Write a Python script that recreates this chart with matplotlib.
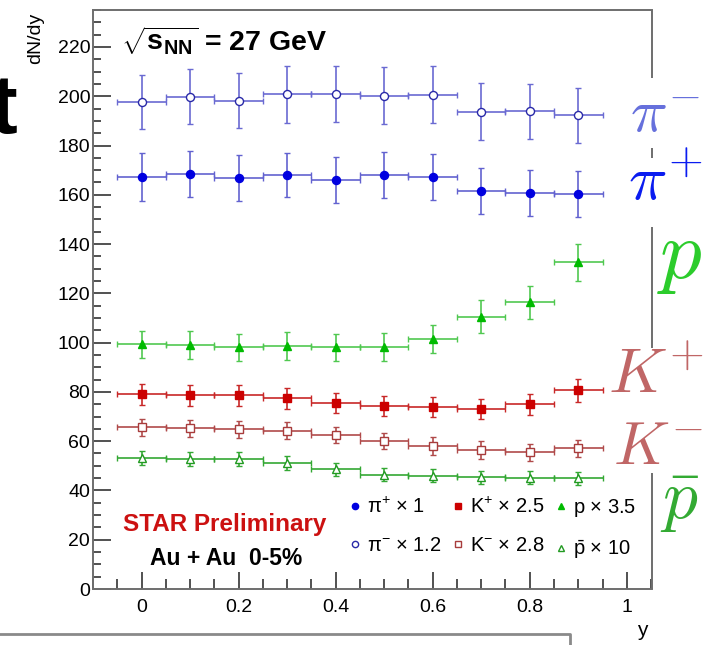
import matplotlib
matplotlib.use("Agg")
import matplotlib.pyplot as plt
from matplotlib.lines import Line2D
from matplotlib.ticker import MultipleLocator

plt.rcParams['font.family'] = ['Liberation Sans', 'DejaVu Sans']
plt.rcParams['mathtext.fontset'] = 'custom'
plt.rcParams['mathtext.rm'] = 'Liberation Sans'
plt.rcParams['mathtext.it'] = 'Liberation Sans:italic'
plt.rcParams['mathtext.bf'] = 'Liberation Sans:bold'

# rapidity bins (centres) and half-width
rap = [0.0, 0.1, 0.2, 0.3, 0.4, 0.5, 0.6, 0.7, 0.8, 0.9]
rap_hw = [0.05] * 10

# dN/dy, already multiplied by the scale factors in the legend
pim = [197.6, 199.8, 198.2, 200.8, 201.0, 200.2, 200.6, 193.7, 193.9, 192.2]
pim_err = [10.9, 11.2, 11.2, 11.5, 11.3, 11.6, 11.6, 11.5, 11.2, 11.0]
pip = [167.1, 168.4, 166.7, 168.0, 166.0, 168.0, 167.2, 161.5, 160.8, 160.2]
pip_err = [9.7, 9.5, 9.4, 9.1, 9.4, 9.5, 9.5, 9.4, 9.3, 9.3]
prot = [99.4, 99.0, 98.1, 98.6, 98.1, 98.3, 101.5, 110.5, 116.3, 132.6]
prot_err = [5.5, 5.6, 5.4, 5.6, 5.5, 5.7, 5.8, 6.6, 6.8, 7.5]
kp = [79.1, 78.7, 78.7, 77.4, 75.6, 74.3, 73.9, 73.1, 75.0, 80.6]
kp_err = [4.3, 4.3, 4.3, 4.2, 4.1, 4.0, 4.1, 4.1, 4.2, 4.6]
km = [65.6, 65.2, 64.8, 64.3, 62.4, 60.2, 58.0, 56.4, 55.5, 57.1]
km_err = [3.4, 3.4, 3.4, 3.4, 3.3, 3.3, 3.5, 3.5, 3.4, 3.4]
pbar = [53.3, 52.8, 52.8, 51.0, 48.6, 46.4, 46.0, 45.4, 45.2, 45.0]
pbar_err = [2.9, 2.9, 2.8, 2.8, 2.7, 2.6, 2.6, 2.6, 2.6, 2.6]

fig = plt.figure(figsize=(7.06, 6.45), dpi=100)
ax = fig.add_axes([93/706, 1-589/645, 559/706, 579/645])

series = [
    # values, errors, marker, face, edge, errcolor, legend label
    (pip, pip_err, 'o', '#0000e0', '#0000e0', '#6262d0', r'$\mathregular{\pi^{+}}$ $\times$ 1'),
    (pim, pim_err, 'o', 'white', '#2a2aa8', '#6a6ad2', r'$\mathregular{\pi^{-}}$ $\times$ 1.2'),
    (kp, kp_err, 's', '#cc0000', '#cc0000', '#c82828', r'K$^{+}$ $\times$ 2.5'),
    (km, km_err, 's', 'white', '#a83c3c', '#b04a4a', r'K$^{-}$ $\times$ 2.8'),
    (prot, prot_err, '^', '#00bb00', '#00bb00', '#50c850', r'p $\times$ 3.5'),
    (pbar, pbar_err, '^', 'white', '#229a22', '#33a833', r'$\mathregular{\bar{p}}$ $\times$ 10'),
]

handles, labels = [], []
for vals, errs, mk, fc, ec, errc, lab in series:
    ax.errorbar(rap, vals, xerr=rap_hw, yerr=errs, fmt='none', ecolor=errc,
                elinewidth=1.2, capsize=2.5, capthick=1.0, zorder=2)
    ax.plot(rap, vals, ls='none', marker=mk, ms=5.8, mfc=fc, mec=ec, mew=1.0, zorder=3)
    handles.append(Line2D([], [], ls='none', marker=mk, ms=4.5, mfc=fc, mec=ec, mew=1.0))
    labels.append(lab)

ax.set_xlim(-0.1, 1.052)
ax.set_ylim(0, 235)
ax.xaxis.set_minor_locator(MultipleLocator(0.05))
ax.yaxis.set_major_locator(MultipleLocator(20))
ax.yaxis.set_minor_locator(MultipleLocator(5))
ax.set_xticks([0, 0.2, 0.4, 0.6, 0.8, 1.0])
ax.set_xticklabels(['0', '0.2', '0.4', '0.6', '0.8', '1'])
ax.tick_params(which='both', direction='in', color='#222222', width=1.1,
               labelsize=14, top=False, right=False)
ax.tick_params(axis='y', which='major', length=13, pad=2)
ax.tick_params(axis='y', which='minor', length=6)
ax.tick_params(axis='x', which='major', length=12, pad=7)
ax.tick_params(axis='x', which='minor', length=7)

for side in ['left', 'bottom', 'top']:
    ax.spines[side].set_color('#6e6e6e')
    ax.spines[side].set_linewidth(1.4)
ax.spines['right'].set_visible(False)
# right frame edge, broken where the particle names sit
for y0, y1 in [(1.0, 0.8826), (0.7617, 0.7444), (0.6252, 0.4162), (0.2003, 0.0)]:
    ax.plot([1, 1], [y0, y1], transform=ax.transAxes, color='#6e6e6e',
            lw=1.4, clip_on=False, solid_capstyle='butt')

ax.text(0.05, 0.975, r'$\mathbf{\sqrt{s_{NN}}}$ = 27 GeV', transform=ax.transAxes,
        fontsize=20.5, fontweight='bold', ha='left', va='top')
ax.text(0.235, 0.111, 'STAR Preliminary', transform=ax.transAxes, fontsize=17.5,
        fontweight='bold', color='#cc1111', ha='center', va='center')
ax.text(0.238, 0.052, 'Au + Au  0-5%', transform=ax.transAxes, fontsize=16.5,
        fontweight='bold', color='black', ha='center', va='center')

leg = ax.legend(handles, labels, ncol=3, loc='center', frameon=False,
                bbox_to_anchor=(493/706, 1-529/645), bbox_transform=fig.transFigure,
                fontsize=14.5, handlelength=0.5, handletextpad=0.35,
                columnspacing=0.55, labelspacing=0.95)

fig.text(36/706, 1-13/645, 'dN/dy', rotation=90, ha='center', va='top', fontsize=14)
fig.text(642/706, 1-630/645, 'y', ha='center', va='center', fontsize=15)

# particle names on the right side
names = [
    (r'$\pi^{-}$', 630, 133, 44, '#6670dc'),
    (r'$\pi^{+}$', 628, 200, 46, '#0a1cf0'),
    (r'$p$', 657, 278, 60, '#2ccc2c'),
    (r'$K^{+}$', 608, 393, 46, '#c06666'),
    (r'$K^{-}$', 613, 464, 44, '#c06666'),
    (r'$\bar{p}$', 660, 519, 50, '#33aa33'),
]
for txt, px, py, fs, col in names:
    fig.text(px/706, 1-py/645, txt, fontsize=fs, color=col, ha='left',
             va='baseline', math_fontfamily='cm')

# cut-off slide title letter and box edge
fig.text(-10/706, 1-133/645, 't', fontsize=60, fontweight='bold', ha='left',
         va='baseline')
fig.add_artist(Line2D([0, 570/706, 570/706], [1-634/645, 1-634/645, 0],
                      transform=fig.transFigure, color='#8a8a8a', lw=2))

fig.savefig('out.png', dpi=100)
